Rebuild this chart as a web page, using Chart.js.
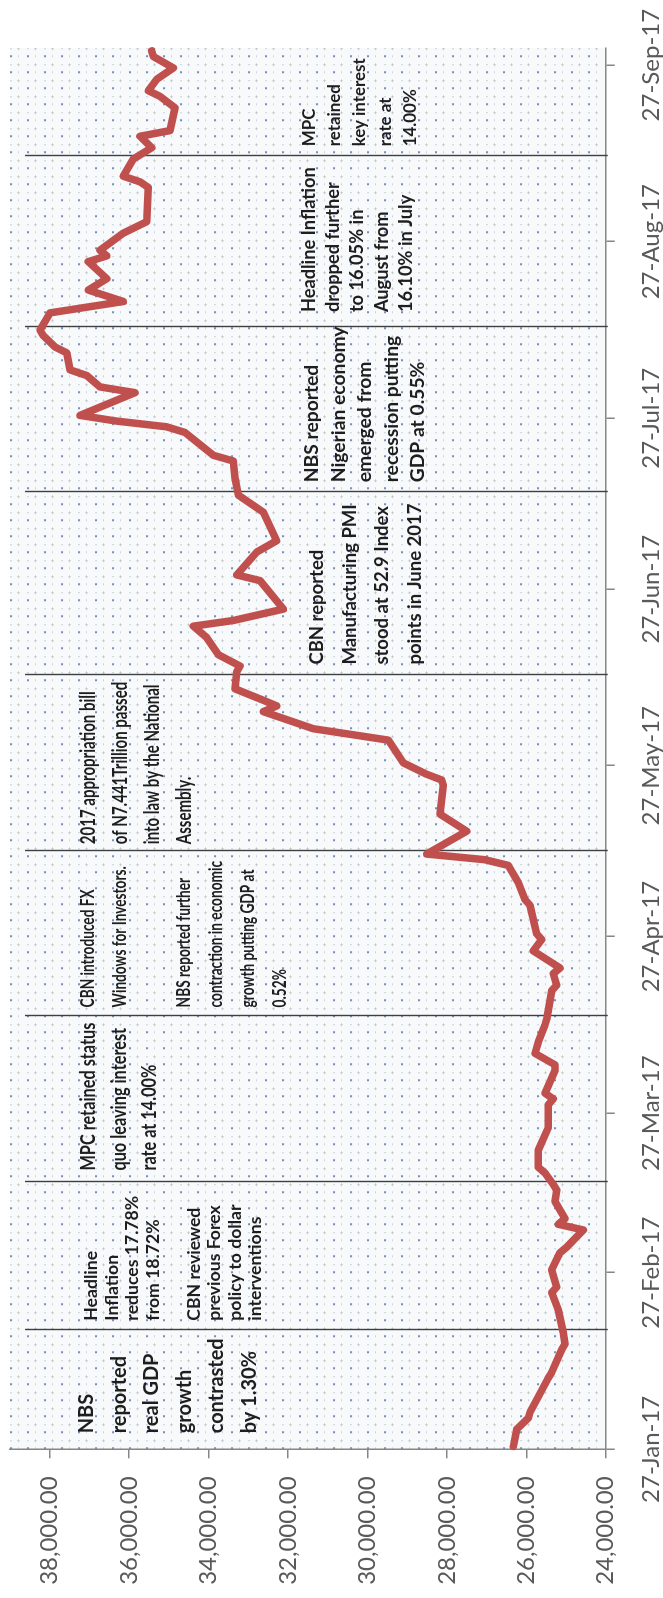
<!DOCTYPE html>
<html>
<head>
<meta charset="utf-8">
<title>NSE All-Share Index, Jan–Sep 2017</title>
<script src="https://cdn.jsdelivr.net/npm/chart.js@4/dist/chart.umd.min.js"></script>
<style>
  html, body { margin: 0; padding: 0; background: #ffffff; overflow: hidden; }
  body { width: 663px; height: 1598px; position: relative; }
  /* the chart is laid out landscape and turned a quarter turn so dates run upward */
  #wrap {
    position: absolute; left: 0; top: 0;
    width: 1598px; height: 663px;
    transform-origin: 0 0;
    transform: translateY(1598px) rotate(-90deg);
  }
  canvas { display: block; }
</style>
</head>
<body>
<div id="wrap"><canvas id="asi" width="1598" height="663"></canvas></div>
<script>
// ---- data -------------------------------------------------------------
const baseDate = '2017-01-27';
const axisEndDate = '2017-09-30';

const tradeDates = [
  '2017-01-27','2017-01-30','2017-02-01','2017-02-02','2017-02-08','2017-02-09',
  '2017-02-13','2017-02-14','2017-02-16','2017-02-20','2017-02-23','2017-02-24',
  '2017-02-27','2017-03-02','2017-03-03','2017-03-06','2017-03-07','2017-03-08',
  '2017-03-11','2017-03-13','2017-03-14','2017-03-16','2017-03-17','2017-03-20',
  '2017-03-24','2017-03-28','2017-03-29','2017-03-30','2017-04-03','2017-04-04',
  '2017-04-06','2017-04-08','2017-04-11','2017-04-12','2017-04-17','2017-04-18',
  '2017-04-20','2017-04-21','2017-04-24','2017-04-26','2017-04-27','2017-05-02',
  '2017-05-03','2017-05-06','2017-05-09','2017-05-10','2017-05-11','2017-05-15',
  '2017-05-18','2017-05-23','2017-05-24','2017-05-25','2017-05-27','2017-05-31',
  '2017-06-02','2017-06-04','2017-06-05','2017-06-06','2017-06-07','2017-06-09',
  '2017-06-12','2017-06-13','2017-06-15','2017-06-18','2017-06-20','2017-06-21',
  '2017-06-23','2017-06-28','2017-06-29','2017-07-03','2017-07-05','2017-07-10',
  '2017-07-13','2017-07-16','2017-07-19','2017-07-20','2017-07-24','2017-07-25',
  '2017-07-26','2017-07-27','2017-07-31','2017-08-01','2017-08-03','2017-08-04',
  '2017-08-07','2017-08-08','2017-08-10','2017-08-11','2017-08-13','2017-08-14',
  '2017-08-16','2017-08-18','2017-08-20','2017-08-23','2017-08-24','2017-08-25',
  '2017-08-28','2017-08-30','2017-09-05','2017-09-06','2017-09-07','2017-09-10',
  '2017-09-12','2017-09-14','2017-09-15','2017-09-19','2017-09-21','2017-09-22',
  '2017-09-24','2017-09-26','2017-09-28','2017-09-29'
];

const indexValues = [
  26326, 26241, 25949, 25906, 25445, 25360,
  25108, 25025, 25068, 25194, 25360, 25234,
  25360, 25151, 24982, 24564, 25194, 25025,
  25277, 25234, 25320, 25528, 25697, 25697,
  25445, 25445, 25320, 25528, 25277, 25277,
  25780, 25697, 25528, 25486, 25360, 25234,
  25320, 25151, 25823, 25612, 25737, 25906,
  26032, 26200, 26452, 27039, 28507, 27500,
  28172, 28089, 28130, 28507, 29096, 29474,
  31363, 32201, 32622, 32284, 32622, 33334,
  33291, 33208, 33755, 34047, 34384, 33377,
  32118, 32705, 33291, 32788, 32284, 32622,
  33250, 33334, 33377, 33881, 34593, 35054,
  36313, 37237, 35852, 36734, 37068, 37489,
  37572, 37866, 38161, 38245, 38077, 37993,
  36147, 37028, 36565, 37028, 36565, 36734,
  36147, 35558, 35517, 35726, 36147, 35895,
  35432, 35726, 34971, 34845, 35222, 35517,
  35306, 34888, 35391, 35432
];

const monthTickDates = [
  '2017-01-27','2017-02-27','2017-03-27','2017-04-27','2017-05-27',
  '2017-06-27','2017-07-27','2017-08-27','2017-09-27'
];
const monthTickLabels = [
  '27-Jan-17','27-Feb-17','27-Mar-17','27-Apr-17','27-May-17',
  '27-Jun-17','27-Jul-17','27-Aug-17','27-Sep-17'
];

const valueTicks = [24000, 26000, 28000, 30000, 32000, 34000, 36000, 38000];
const valueMin = 24000;
const valueMax = 39000;

// dates that split the chart into event periods
const eventDates = [
  '2017-02-17','2017-03-15','2017-04-13','2017-05-12',
  '2017-06-12','2017-07-14','2017-08-12','2017-09-11'
];

// one note per period, first one starts at the beginning of the axis
const eventNotes = [
  ['NBS', 'reported', 'real GDP', 'growth', 'contrasted', 'by 1.30%'],
  ['Headline', 'Inflation', 'reduces 17.78%', 'from 18.72%', '',
   'CBN reviewed', 'previous Forex', 'policy to dollar', 'interventions'],
  ['MPC retained status', 'quo leaving interest', 'rate at 14.00%'],
  ['CBN introduced FX', 'Windows for Investors.', '',
   'NBS reported further', 'contraction in economic', 'growth putting GDP at', '0.52%'],
  ['2017 appropriation bill', 'of N7.441Trillion passed', 'into law by the National', 'Assembly.'],
  ['CBN reported', 'Manufacturing PMI', 'stood at 52.9 Index', 'points in June 2017'],
  ['NBS reported', 'Nigerian economy', 'emerged from', 'recession putting', 'GDP at 0.55%'],
  ['Headline Inflation', 'dropped further', 'to 16.05% in', 'August from', '16.10% in July'],
  ['MPC', 'retained', 'key interest', 'rate at', '14.00%']
];

// ---- layout / styling ---------------------------------------------------
// pad: gap after the period start, base: first baseline, lh: line step,
// ref/width: reference line and the width it should take
const noteLayout = [
  { pad: 16, base: 93,  lh: 32.5, size: 21, ref: 4, width: 95,  condensed: false },
  { pad: 9,  base: 97,  lh: 20.5, size: 18, ref: 2, width: 125, condensed: false },
  { pad: 11, base: 95,  lh: 30.5, size: 20, ref: 0, width: 148, condensed: true },
  { pad: 9,  base: 94,  lh: 32,   size: 18, ref: 0, width: 118, condensed: true },
  { pad: 7,  base: 95,  lh: 32,   size: 20, ref: 0, width: 153, condensed: true },
  { pad: 10, base: 323, lh: 32.5, size: 19, ref: 0, width: 115, condensed: false },
  { pad: 10, base: 318, lh: 26.5, size: 19, ref: 1, width: 156, condensed: false },
  { pad: 15, base: 315, lh: 24.2, size: 18, ref: 0, width: 145, condensed: false },
  { pad: 10, base: 315, lh: 25.2, size: 17, ref: 2, width: 88,  condensed: false }
];

const LINE_RED = '#C0504D';
const AXIS_GREY = '#868686';
const LABEL_GREY = '#595959';
const NOTE_INK = '#1e1e1e';
const DIVIDER = '#3f3f3f';

// ---- helpers -----------------------------------------------------------
const DAY = 86400000;
function toUTC(s) { const [y, m, d] = s.split('-').map(Number); return Date.UTC(y, m - 1, d); }
function dayOffset(s) { return Math.round((toUTC(s) - toUTC(baseDate)) / DAY); }

const monthTickOffsets = monthTickDates.map(dayOffset);
// each trading day sits in the middle of its one-day slot
const points = tradeDates.map((d, i) => ({ x: dayOffset(d) + 0.5, y: indexValues[i] }));

function makeDotPattern(ctx) {
  const c = document.createElement('canvas');
  c.width = 16; c.height = 17;
  const g = c.getContext('2d');
  g.fillStyle = 'rgba(240,243,248,0.5)';
  g.fillRect(0, 0, 16, 17);
  g.fillStyle = 'rgba(58,100,172,0.7)';
  g.fillRect(0, 0, 2, 2);
  g.fillStyle = 'rgba(130,155,198,0.4)';
  g.fillRect(8, 0, 1, 2);
  g.fillRect(0, 8, 2, 1);
  g.fillStyle = 'rgba(160,168,180,0.45)';
  g.fillRect(8, 7, 1, 3);
  g.fillRect(7, 8, 3, 1);
  return ctx.createPattern(c, 'repeat');
}

// keep the plot rectangle where the axes were fitted, without label overhang
function noOverhang(scale) {
  scale.paddingTop = 0; scale.paddingBottom = 0;
  scale.paddingLeft = 0; scale.paddingRight = 0;
}

const plotBackdrop = {
  id: 'plotBackdrop',
  beforeDraw(chart) {
    const { ctx, chartArea: a } = chart;
    ctx.save();
    ctx.fillStyle = '#ffffff';
    ctx.fillRect(0, 0, chart.width, chart.height);
    ctx.translate(a.left, a.top);
    ctx.fillStyle = makeDotPattern(ctx);
    ctx.fillRect(0, 0, a.right - a.left, a.bottom - a.top);
    ctx.restore();
  }
};

const eventDividers = {
  id: 'eventDividers',
  beforeDatasetsDraw(chart) {
    const { ctx, chartArea: a, scales: { x } } = chart;
    ctx.save();
    ctx.strokeStyle = DIVIDER;
    ctx.lineWidth = 1.4;
    eventDates.forEach(d => {
      const px = Math.round(x.getPixelForValue(dayOffset(d))) + 0.5;
      ctx.beginPath();
      ctx.moveTo(px, a.top + 15);
      ctx.lineTo(px, a.bottom + 2);
      ctx.stroke();
    });
    ctx.restore();
  }
};

const eventLabels = {
  id: 'eventLabels',
  afterDatasetsDraw(chart) {
    const { ctx, chartArea: a, scales: { x } } = chart;
    ctx.save();
    ctx.fillStyle = NOTE_INK;
    ctx.textAlign = 'left';
    ctx.textBaseline = 'alphabetic';
    eventNotes.forEach((lines, i) => {
      const L = noteLayout[i];
      const start = i === 0 ? a.left : x.getPixelForValue(dayOffset(eventDates[i - 1]));
      let size = L.size, sx = 1;
      ctx.font = `bold ${size}px Lato`;
      const w = ctx.measureText(lines[L.ref]).width;
      if (L.condensed) sx = L.width / w;
      else { size = size * L.width / w; ctx.font = `bold ${size}px Lato`; }
      lines.forEach((t, k) => {
        if (!t) return;
        ctx.save();
        ctx.translate(start + L.pad, a.top - 10 + L.base + k * L.lh);
        ctx.scale(sx, 1);
        ctx.fillText(t, 0, 0);
        ctx.restore();
      });
    });
    ctx.restore();
  }
};

// ---- chart -------------------------------------------------------------
new Chart(document.getElementById('asi'), {
  type: 'line',
  data: {
    datasets: [{
      label: 'NSE All-Share Index',
      data: points,
      borderColor: LINE_RED,
      backgroundColor: LINE_RED,
      borderWidth: 7.5,
      borderJoinStyle: 'round',
      borderCapStyle: 'round',
      pointRadius: 0,
      tension: 0,
      clip: false
    }]
  },
  options: {
    responsive: false,
    animation: false,
    devicePixelRatio: 1,
    layout: { padding: { top: 10, right: 48, bottom: 0, left: 0 } },
    plugins: { legend: { display: false }, tooltip: { enabled: false } },
    scales: {
      x: {
        type: 'linear',
        min: 0,
        max: dayOffset(axisEndDate),
        afterBuildTicks(scale) { scale.ticks = monthTickOffsets.map(v => ({ value: v })); },
        afterFit(scale) { scale.height = 57.3; noOverhang(scale); },
        grid: { drawOnChartArea: false, color: AXIS_GREY, lineWidth: 1.5, tickLength: 9 },
        border: { color: AXIS_GREY, width: 1.5 },
        ticks: {
          autoSkip: false, maxRotation: 0, minRotation: 0, padding: 22,
          color: LABEL_GREY, font: { family: 'Lato', size: 24 },
          callback: v => monthTickLabels[monthTickOffsets.indexOf(v)]
        }
      },
      y: {
        type: 'linear',
        min: valueMin,
        max: valueMax,
        afterBuildTicks(scale) { scale.ticks = valueTicks.map(v => ({ value: v })); },
        afterFit(scale) { scale.width = 148.7; noOverhang(scale); },
        grid: { drawOnChartArea: false, color: AXIS_GREY, lineWidth: 1.5, tickLength: 9 },
        border: { color: AXIS_GREY, width: 1.5 },
        ticks: {
          padding: 18, color: LABEL_GREY, font: { family: 'Lato', size: 24 },
          callback: v => v.toLocaleString('en-US', { minimumFractionDigits: 2, maximumFractionDigits: 2 })
        }
      }
    }
  },
  plugins: [plotBackdrop, eventDividers, eventLabels]
});
</script>
</body>
</html>
